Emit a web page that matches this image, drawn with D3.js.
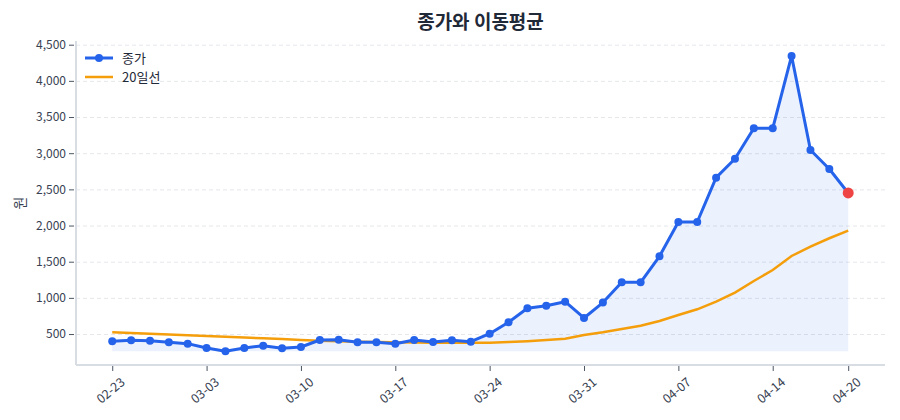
<!DOCTYPE html>
<html>
<head>
<meta charset="utf-8">
<script src="https://cdn.jsdelivr.net/npm/d3@7"></script>
<style>
    body { margin: 0; background: #fff; font-family: "Noto Sans CJK KR", "Noto Sans", sans-serif; }
    .grid line { stroke: #e5e7eb; stroke-dasharray: 4,3; }
    .axis line { stroke: #4b5563; }
</style>
</head>
<body>
<div id="chart"></div>
<script>
// trading days (Korean market, 03-02 holiday)
var dates = ["02-23","02-24","02-25","02-26","02-27","03-03","03-04","03-05","03-06","03-09",
             "03-10","03-11","03-12","03-13","03-16","03-17","03-18","03-19","03-20","03-23",
             "03-24","03-25","03-26","03-27","03-30","03-31","04-01","04-02","04-03","04-06",
             "04-07","04-08","04-09","04-10","04-13","04-14","04-15","04-16","04-17","04-20"];

var close = [400,413,408,386,367,307,261,307,339,303,
             321,418,422,386,386,367,418,390,413,394,
             505,662,856,892,947,722,935,1215,1215,1575,
             2049,2049,2662,2924,3344,3344,4344,3044,2782,2450];

var ma20 = [524,513,503,493,483,473,462,452,442,432,
            418,408,400,395,390,386,383,381,379,378,
            380,390,402,418,436,488,525,570,615,680,
            763,842,947,1072,1233,1385,1579,1708,1824,1929];

var xTickIdx = [0,5,10,15,20,25,30,35,39];
var yTicks = [500,1000,1500,2000,2500,3000,3500,4000,4500];

drawChart();

function drawChart() {
    var width = 900, height = 420;
    var pLeft = 76, pRight = 885, pTop = 41, pBottom = 365;

    var svg = d3.select("#chart")
        .append("svg")
        .attr("width", width)
        .attr("height", height);

    var x = d3.scaleLinear().domain([-1.92, 40.95]).range([pLeft, pRight]);
    var y = d3.scaleLinear().domain([72, 4551]).range([pBottom, pTop]);

    // grid
    svg.append("g")
        .attr("class", "grid")
        .attr("transform", "translate(" + pLeft + ",0)")
        .call(d3.axisLeft(y).tickValues(yTicks).tickSize(-(pRight - pLeft)).tickFormat(""))
        .call(function(g) { g.select(".domain").remove(); });

    // fill under close down to the minimum
    var minClose = d3.min(close);
    var area = d3.area()
        .x(function(d, i) { return x(i); })
        .y0(y(minClose))
        .y1(function(d) { return y(d); });

    svg.append("path")
        .attr("d", area(close))
        .attr("fill", "#2563eb")
        .attr("fill-opacity", 0.09);

    // axes
    svg.append("g")
        .attr("class", "axis")
        .attr("transform", "translate(" + (pLeft - 2) + ",0)")
        .call(d3.axisLeft(y).tickValues(yTicks).tickSize(5).tickPadding(3).tickFormat(d3.format(",")))
        .call(function(g) { g.select(".domain").remove(); })
        .selectAll("text")
            .style("font-size", "12px")
            .style("fill", "#374151")
            .style("font-family", "'Noto Sans CJK KR', 'Noto Sans', sans-serif");

    svg.append("g")
        .attr("class", "axis")
        .attr("transform", "translate(0," + (pBottom + 1) + ")")
        .call(d3.axisBottom(x).tickValues(xTickIdx).tickSize(5).tickFormat(function(i) { return dates[i]; }))
        .call(function(g) { g.select(".domain").remove(); })
        .selectAll("text")
            .style("font-size", "12.5px")
            .style("fill", "#374151")
            .style("font-family", "'Noto Sans CJK KR', 'Noto Sans', sans-serif")
            .attr("text-anchor", "end")
            .attr("dx", "-0.1em")
            .attr("dy", "1.1em")
            .attr("transform", "rotate(-40)");

    svg.append("line")
        .attr("x1", pLeft).attr("x2", pLeft)
        .attr("y1", pTop).attr("y2", pBottom)
        .attr("stroke", "#d8dce3").attr("stroke-width", 2);

    svg.append("line")
        .attr("x1", pLeft).attr("x2", pRight)
        .attr("y1", pBottom).attr("y2", pBottom)
        .attr("stroke", "#d8dce3").attr("stroke-width", 2);

    // lines
    var line = d3.line()
        .x(function(d, i) { return x(i); })
        .y(function(d) { return y(d); });

    svg.append("path")
        .attr("d", line(ma20))
        .attr("fill", "none")
        .attr("stroke", "#f59e0b")
        .attr("stroke-width", 2.5);

    svg.append("path")
        .attr("d", line(close))
        .attr("fill", "none")
        .attr("stroke", "#2563eb")
        .attr("stroke-width", 3)
        .attr("stroke-linejoin", "round");

    svg.append("g").selectAll("circle")
        .data(close.slice(0, close.length - 1))
        .enter().append("circle")
        .attr("cx", function(d, i) { return x(i); })
        .attr("cy", function(d) { return y(d); })
        .attr("r", 4)
        .attr("fill", "#2563eb");

    svg.append("circle")
        .attr("cx", x(close.length - 1))
        .attr("cy", y(close[close.length - 1]))
        .attr("r", 5.5)
        .attr("fill", "#ef4444");

    // title + y label
    svg.append("text")
        .attr("x", (pLeft + pRight) / 2)
        .attr("y", 29)
        .attr("text-anchor", "middle")
        .style("font-size", "19px")
        .style("font-weight", "bold")
        .style("fill", "#1f2937")
        .text("종가와 이동평균");

    svg.append("text")
        .attr("transform", "translate(25," + ((pTop + pBottom) / 2) + ") rotate(-90)")
        .attr("text-anchor", "middle")
        .style("font-size", "14px")
        .style("fill", "#374151")
        .text("원");

    // legend
    var legend = svg.append("g").attr("transform", "translate(85,58)");
    legend.append("line").attr("x1", 0).attr("x2", 28).attr("stroke", "#2563eb").attr("stroke-width", 3);
    legend.append("circle").attr("cx", 14).attr("r", 4).attr("fill", "#2563eb");
    legend.append("text").attr("x", 37).attr("dy", "0.35em").style("font-size", "13px").style("fill", "#1f2937").text("종가");
    legend.append("line").attr("x1", 0).attr("x2", 28).attr("y1", 19).attr("y2", 19).attr("stroke", "#f59e0b").attr("stroke-width", 2.5);
    legend.append("text").attr("x", 37).attr("y", 19).attr("dy", "0.35em").style("font-size", "13px").style("fill", "#1f2937").text("20일선");
}
</script>
</body>
</html>
